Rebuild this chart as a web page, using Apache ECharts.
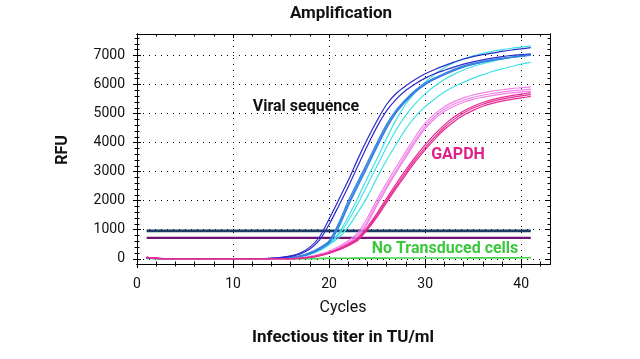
<!DOCTYPE html>
<html><head><meta charset="utf-8">
<script src="https://cdn.jsdelivr.net/npm/echarts@6/dist/echarts.min.js"></script>
<style>html,body{margin:0;padding:0;background:#fff}#c{width:640px;height:359px}</style>
</head><body><div id="c"></div>
<script>
// ---------- data ----------
const cycles = [1,2,3,4,5,6,7,8,9,10,11,12,13,14,15,16,17,18,19,20,21,22,23,24,25,26,27,28,29,30,31,32,33,34,35,36,37,38,39,40,41];

const darkBlue1 = [30,10,0,0,0,0,0,0,0,0,0,0,0,20,50,100,200,400,750,1370,2030,2700,3440,4130,4760,5320,5700,5960,6180,6370,6520,6650,6770,6880,6960,7030,7080,7140,7190,7230,7270];
const darkBlue2 = [30,10,0,0,0,0,0,0,0,0,0,0,0,15,40,85,170,340,640,1180,1820,2480,3200,3900,4550,5100,5500,5800,6030,6220,6370,6490,6600,6700,6780,6850,6910,6960,7000,7030,7060];
const medBlue1  = [30,10,0,0,0,0,0,0,0,0,0,0,0,0,15,45,100,210,380,620,1230,2000,2670,3330,4000,4640,5130,5500,5810,6050,6230,6380,6520,6640,6730,6800,6860,6910,6950,6990,7020];
const medBlue2  = [30,10,0,0,0,0,0,0,0,0,0,0,0,0,12,40,90,190,350,580,1150,1900,2580,3250,3920,4570,5080,5460,5770,6010,6200,6350,6490,6610,6700,6780,6840,6890,6940,6980,7010];
const medBlue3  = [30,10,0,0,0,0,0,0,0,0,0,0,0,0,10,35,80,170,320,540,1080,1820,2500,3170,3850,4500,5030,5420,5740,5990,6180,6340,6480,6600,6690,6770,6830,6880,6930,6970,7000];
const cyan1     = [30,10,0,0,0,0,0,0,0,0,0,0,0,0,0,30,80,170,300,500,880,1450,2100,2800,3450,4150,4800,5330,5750,6080,6350,6580,6750,6880,6980,7070,7140,7200,7250,7290,7330];
const cyan3     = [30,10,0,0,0,0,0,0,0,0,0,0,0,0,0,25,70,160,300,500,820,1300,1900,2550,3200,3850,4450,4950,5350,5680,5950,6170,6350,6500,6620,6720,6800,6870,6930,6980,7020];
const cyan2     = [30,10,0,0,0,0,0,0,0,0,0,0,0,0,0,25,70,150,280,480,730,1100,1600,2150,2800,3400,3950,4480,4900,5240,5500,5740,5930,6080,6220,6340,6450,6540,6620,6700,6770];
const pink1     = [50,20,0,0,0,0,0,0,0,0,0,0,0,0,0,0,30,70,140,230,380,560,820,1300,1940,2500,3050,3580,4100,4560,4900,5150,5330,5460,5560,5630,5690,5740,5780,5810,5840];
const pink2     = [50,20,0,0,0,0,0,0,0,0,0,0,0,0,0,0,35,80,160,260,420,620,900,1420,2050,2620,3170,3700,4220,4660,4990,5230,5410,5540,5640,5710,5770,5820,5860,5890,5920];
const pink3     = [50,20,0,0,0,0,0,0,0,0,0,0,0,0,0,0,25,60,120,210,350,520,760,1220,1850,2420,2980,3500,4020,4480,4820,5070,5250,5390,5490,5560,5620,5670,5710,5740,5770];
const magenta1  = [50,20,0,0,0,0,0,0,0,0,0,0,0,0,0,0,20,50,110,200,320,480,680,1050,1500,2010,2500,2980,3430,3830,4200,4530,4800,5020,5190,5320,5420,5500,5560,5610,5650];
const magenta2  = [50,20,0,0,0,0,0,0,0,0,0,0,0,0,0,0,22,55,120,215,340,510,720,1100,1570,2090,2590,3070,3520,3920,4290,4610,4880,5090,5250,5380,5480,5560,5620,5670,5720];
const magenta3  = [50,20,0,0,0,0,0,0,0,0,0,0,0,0,0,0,18,45,100,185,300,450,640,1000,1440,1940,2430,2900,3350,3750,4120,4450,4720,4940,5110,5250,5350,5430,5490,5540,5590];
const noTransduced = [20,5,0,0,0,0,0,0,0,0,0,0,0,0,0,0,0,0,10,15,20,20,22,22,24,24,25,25,26,26,27,28,28,29,30,30,31,32,32,33,34];

const thresholdCycles = [1,41];
const thresholdViral = [960,960];
const thresholdGapdh = [720,720];

const xMajorTicks = [0,10,20,30,40];
const xMinorTicks = [2,4,6,8,12,14,16,18,22,24,26,28,32,34,36,38,42];
const yMajorTicks = [0,1000,2000,3000,4000,5000,6000,7000];
const yMinorTicks = [200,400,600,800,1200,1400,1600,1800,2200,2400,2600,2800,3200,3400,3600,3800,4200,4400,4600,4800,5200,5400,5600,5800,6200,6400,6600,6800,7200,7400,7600];

// ---------- chart ----------
const FONT = 'Roboto, sans-serif';
const XMIN = 0, XMAX = 43, YMIN = -180, YMAX = 7740;
function pairs(xs, ys){ return xs.map((x,i)=>[x, ys[i]]); }

function xAx(pos, ticks, len, inside, extra){
  return Object.assign({
    type:'value', position:pos, min:XMIN, max:XMAX,
    axisLine:{show:true, onZero:false, lineStyle:{color:'#000', width:1}},
    axisTick:{show:true, inside:inside, length:len, customValues:ticks, lineStyle:{color:'#000', width:1}},
    axisLabel:{show:false}, splitLine:{show:false}
  }, extra||{});
}
function yAx(pos, ticks, len, inside, extra){
  return Object.assign({
    type:'value', position:pos, min:YMIN, max:YMAX,
    axisLine:{show:true, onZero:false, lineStyle:{color:'#000', width:1}},
    axisTick:{show:true, inside:inside, length:len, customValues:ticks, lineStyle:{color:'#000', width:1}},
    axisLabel:{show:false}, splitLine:{show:false}
  }, extra||{});
}

const labelStyle = {show:true, fontFamily:FONT, fontSize:14, color:'#111', formatter:(v)=>String(v)};

const xAxes = [
  xAx('bottom', xMajorTicks, 4, false, {
    axisLabel:Object.assign({customValues:xMajorTicks, margin:13}, labelStyle),
    splitLine:{show:true, lineStyle:{color:'#000', width:1, type:[1,5]}}
  }),
  xAx('bottom', xMajorTicks, 4, true),
  xAx('bottom', xMinorTicks, 2.5, false),
  xAx('bottom', xMinorTicks, 2.5, true),
  xAx('top', xMajorTicks, 4, true),
  xAx('top', xMinorTicks, 2.5, true)
];
const yAxes = [
  yAx('left', yMajorTicks, 4, false, {
    axisLabel:Object.assign({customValues:yMajorTicks, margin:12}, labelStyle),
    splitLine:{show:true, lineStyle:{color:'#000', width:1, type:[1,5]}}
  }),
  yAx('left', yMajorTicks, 4, true),
  yAx('left', yMinorTicks, 2.5, false),
  yAx('left', yMinorTicks, 2.5, true),
  yAx('right', yMajorTicks, 4, true),
  yAx('right', yMinorTicks, 2.5, true)
];

function curve(vals, color, w){
  return {type:'line', data:pairs(cycles, vals), showSymbol:false, symbol:'none', smooth:0.3,
    lineStyle:{color:color, width:w||1.2}, itemStyle:{color:color}, silent:true, z:3};
}
function flat(ys, color, w){
  return {type:'line', data:pairs(thresholdCycles, ys), showSymbol:false, symbol:'none',
    lineStyle:{color:color, width:w}, silent:true, z:2};
}

const DB='#2b2bc8', MB='#3380e2', CY='#40e2e6', PK='#f282ea', MG='#e62a92';
const series = [
  curve(noTransduced, '#3fd34a', 1.6),
  flat(thresholdViral, '#1c3c64', 2.6),
  flat(thresholdGapdh, '#6e1474', 2.4),
  curve(cyan2, CY), curve(cyan3, CY), curve(cyan1, CY),
  curve(medBlue3, MB), curve(medBlue2, MB), curve(medBlue1, MB),
  curve(darkBlue2, DB), curve(darkBlue1, DB),
  curve(pink3, PK), curve(pink2, PK), curve(pink1, PK),
  curve(magenta3, MG), curve(magenta2, MG), curve(magenta1, MG)
];

const chart = echarts.init(document.getElementById('c'), null, {renderer:'canvas'});
chart.setOption({
  animation:false,
  backgroundColor:'#fff',
  grid:{left:137, right:90, top:34, height:230, containLabel:false},
  xAxis:xAxes, yAxis:yAxes, series:series,
  graphic:[
    {type:'text', style:{text:'Amplification', x:341, y:14, align:'center', verticalAlign:'middle', font:'bold 17px Roboto, sans-serif', fill:'#111'}, z:10},
    {type:'text', style:{text:'Viral sequence', x:306, y:107, align:'center', verticalAlign:'middle', font:'bold 16px Roboto, sans-serif', fill:'#111'}, z:10},
    {type:'text', style:{text:'GAPDH', x:458, y:155, align:'center', verticalAlign:'middle', font:'bold 16px Roboto, sans-serif', fill:'#e0208a'}, z:10},
    {type:'text', style:{text:'No Transduced cells', x:445, y:249, align:'center', verticalAlign:'middle', font:'bold 16px Roboto, sans-serif', fill:'#3cc83c'}, z:10},
    {type:'text', rotation:Math.PI/2, x:63, y:150, style:{text:'RFU', x:0, y:0, align:'center', verticalAlign:'middle', font:'bold 16px Roboto, sans-serif', fill:'#111'}, z:10},
    {type:'text', style:{text:'Cycles', x:343, y:308, align:'center', verticalAlign:'middle', font:'16px Roboto, sans-serif', fill:'#111'}, z:10},
    {type:'text', style:{text:'Infectious titer in TU/ml', x:343, y:338, align:'center', verticalAlign:'middle', font:'bold 17px Roboto, sans-serif', fill:'#111'}, z:10}
  ]
});
</script>
</body></html>
